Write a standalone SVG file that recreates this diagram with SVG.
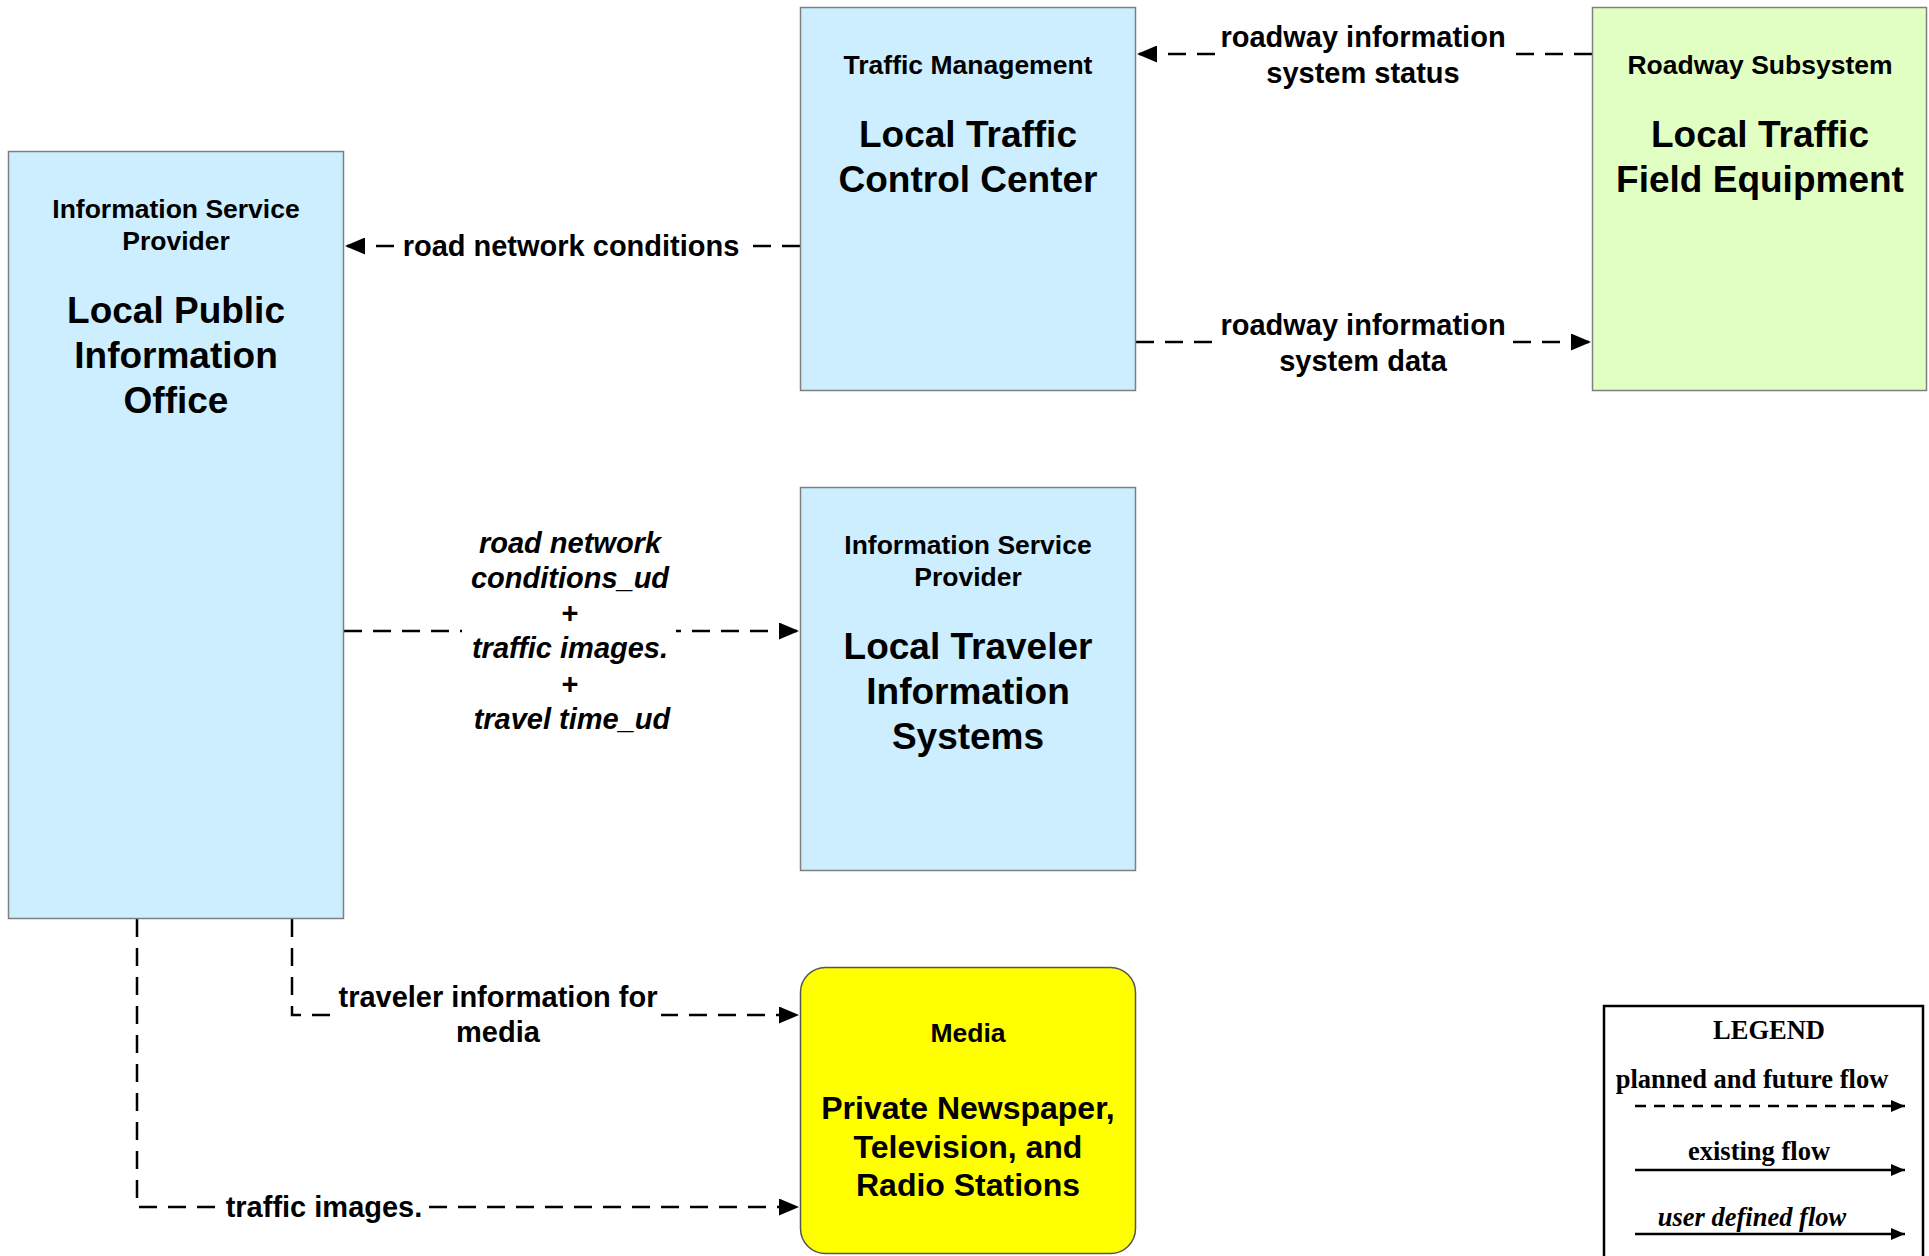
<svg xmlns="http://www.w3.org/2000/svg" width="1929" height="1256" viewBox="0 0 1929 1256">
<style>
.box{stroke:#7f7f7f;stroke-width:1.5}
.blue{fill:#cceeff}
.green{fill:#e1ffc3}
.yellow{fill:#ffff00;stroke:#555}
.t{font-family:"Liberation Sans",Arial,sans-serif;font-weight:bold;fill:#000;text-anchor:middle}
.sub{font-size:26.5px}
.name{font-size:37px}
.mname{font-size:32px}
.lbl{font-size:29px}
.it{font-style:italic}
.flow{fill:none;stroke:#000;stroke-width:2.5;stroke-dasharray:18 11}
.bg{fill:#fff}
.lg{font-family:"Liberation Serif","Times New Roman",serif;font-weight:bold;font-size:26.5px;fill:#000;text-anchor:middle}
.lgline{fill:none;stroke:#000;stroke-width:2.5}
</style>
<defs>
<marker id="ah" markerUnits="userSpaceOnUse" markerWidth="21" markerHeight="17" refX="20" refY="8.5" orient="auto">
<path d="M0,0 L20,8.5 L0,17 z" fill="#000"/>
</marker>
<marker id="ahs" markerUnits="userSpaceOnUse" markerWidth="15" markerHeight="12" refX="14" refY="6" orient="auto">
<path d="M0,0 L14,6 L0,12 z" fill="#000"/>
</marker>
</defs>
<rect width="1929" height="1256" fill="#fff"/>

<g id="connectors">
<path class="flow" d="M1592,54 H1137" marker-end="url(#ah)"/>
<path class="flow" d="M1136,342 H1591" marker-end="url(#ah)"/>
<path class="flow" d="M800,246 H345" marker-end="url(#ah)"/>
<path class="flow" d="M344,631 H799" marker-end="url(#ah)"/>
<path class="flow" d="M292,919 V1015 H799" marker-end="url(#ah)"/>
<path class="flow" d="M137,919 V1207 H799" marker-end="url(#ah)"/>

<rect class="bg" x="1219" y="22" width="288" height="70"/>
<text class="t lbl" x="1363" y="47">roadway information</text>
<text class="t lbl" x="1363" y="83">system status</text>

<rect class="bg" x="1219" y="308" width="288" height="70"/>
<text class="t lbl" x="1363" y="335">roadway information</text>
<text class="t lbl" x="1363" y="371">system data</text>

<rect class="bg" x="400" y="230" width="342" height="34"/>
<text class="t lbl" x="571" y="256">road network conditions</text>

<rect class="bg" x="462" y="528" width="214" height="210"/>
<text class="t lbl it" x="570" y="553">road network</text>
<text class="t lbl it" x="570" y="588">conditions_ud</text>
<text class="t lbl" x="570" y="623">+</text>
<text class="t lbl it" x="570" y="658">traffic images.</text>
<text class="t lbl" x="570" y="694">+</text>
<text class="t lbl it" x="572" y="729">travel time_ud</text>

<rect class="bg" x="336" y="980" width="325" height="70"/>
<text class="t lbl" x="498" y="1007">traveler information for</text>
<text class="t lbl" x="498" y="1042">media</text>

<rect class="bg" x="226" y="1190" width="197" height="34"/>
<text class="t lbl" x="324" y="1217">traffic images.</text>
</g>

<g id="node-public-info">
<rect class="box blue" x="8.5" y="151.5" width="335" height="767"/>
<text class="t sub" x="176" y="218">Information Service</text>
<text class="t sub" x="176" y="250">Provider</text>
<text class="t name" x="176" y="323">Local Public</text>
<text class="t name" x="176" y="368">Information</text>
<text class="t name" x="176" y="413">Office</text>
</g>

<g id="node-traffic-mgmt">
<rect class="box blue" x="800.5" y="7.5" width="335" height="383"/>
<text class="t sub" x="968" y="74">Traffic Management</text>
<text class="t name" x="968" y="147">Local Traffic</text>
<text class="t name" x="968" y="192">Control Center</text>
</g>

<g id="node-roadway">
<rect class="box green" x="1592.5" y="7.5" width="334" height="383"/>
<text class="t sub" x="1760" y="74">Roadway Subsystem</text>
<text class="t name" x="1760" y="147">Local Traffic</text>
<text class="t name" x="1760" y="192">Field Equipment</text>
</g>

<g id="node-traveler-info">
<rect class="box blue" x="800.5" y="487.5" width="335" height="383"/>
<text class="t sub" x="968" y="554">Information Service</text>
<text class="t sub" x="968" y="586">Provider</text>
<text class="t name" x="968" y="659">Local Traveler</text>
<text class="t name" x="968" y="704">Information</text>
<text class="t name" x="968" y="749">Systems</text>
</g>

<g id="node-media">
<rect class="box yellow" x="800.5" y="967.5" width="335" height="286" rx="25" ry="25"/>
<text class="t sub" x="968" y="1042">Media</text>
<text class="t mname" x="968" y="1119">Private Newspaper,</text>
<text class="t mname" x="968" y="1158">Television, and</text>
<text class="t mname" x="968" y="1196">Radio Stations</text>
</g>

<g id="legend">
<rect x="1604" y="1006" width="319" height="260" fill="#fff" stroke="#000" stroke-width="2.5"/>
<text class="lg" x="1769" y="1039">LEGEND</text>
<text class="lg" x="1752" y="1088">planned and future flow</text>
<path class="lgline" d="M1635,1106 H1905" stroke-dasharray="11 8" marker-end="url(#ahs)"/>
<text class="lg" x="1759" y="1160">existing flow</text>
<path class="lgline" d="M1635,1170 H1905" marker-end="url(#ahs)"/>
<text class="lg" x="1752" y="1226" font-style="italic">user defined flow</text>
<path class="lgline" d="M1635,1234 H1905" marker-end="url(#ahs)"/>
</g>
</svg>
